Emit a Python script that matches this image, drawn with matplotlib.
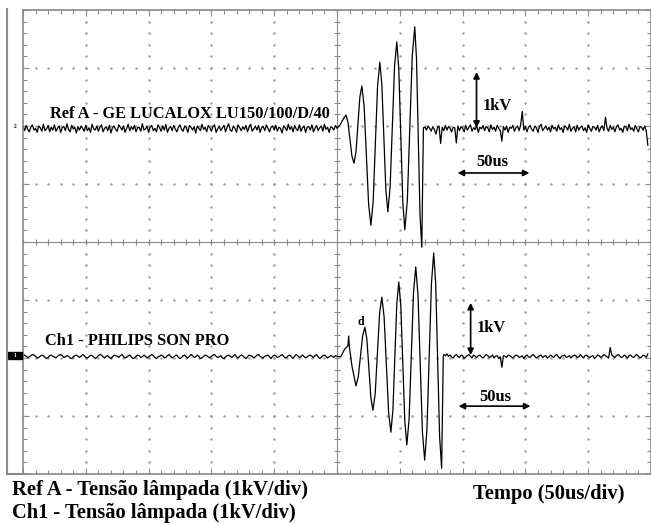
import numpy as np
import matplotlib
matplotlib.use("Agg")
import matplotlib.pyplot as plt
from matplotlib.lines import Line2D
from matplotlib.patches import Rectangle

plt.rcParams['font.family'] = ['Liberation Serif', 'DejaVu Serif']
plt.rcParams['font.weight'] = 'bold'

# --- dados (tempo em us, tensão em kV) ---
ref_base = 1.95
ch1_base = -1.98
dt = 1.25  # passo das amostras da linha de base (us)

# ruído da linha de base, em centésimos de kV
ref_pre_noise = [4, -3, 6, -1, -5, 3, 7, -2, 1, -6, 5, 2, -4, 8, -3, 0, 6, -5, 3, -2,
                 7, -4, 1, 5, -6, 2, 4, -3, 9, -1, -5, 6, 0, 3, -7, 4, -2, 5, 1, -4,
                 6, -3, 2, -6, 8, 0, -2, 5, -4, 3, 7, -5, 1, 4, -3, 6, -7, 2, 5, -1,
                 -4, 7, 3, -2, 5, -6, 1, 8, -3, 4, -1, 6, -5, 2, 3, -4, 9, -2, 0, 5,
                 -6, 3, 6, -3, 1, -5, 7, 2, -4, 5, -2, 8, -6, 1, 4, -3, 6, 0, -5, 3,
                 7, -1, -4, 5, 2, -6, 6, 3, -2, 4, -7, 5, 1, -3, 8, -1, 3, -5, 6, 2,
                 -4, 4, 7, -6, 0, 5, -3, 2, 6, -5, 3, 9, -2, -4, 5, 1, -6, 7, 2, -3,
                 4, -1, 6, -5, 3, 8, -4, 0, 5, -2, 6, -6, 2, 4, -3, 7, 1, -5, 3, 5,
                 -2, 6, -4, 3, 1, -7, 5, 2, -3, 8, -1, 4, -5, 6, 0, -3, 7, -4, 2, 5,
                 -6, 3, 4, -2, 7, -5, 1, 6, -3, 2, 5, -4, 8, -1, 3, -6, 4, 2, -2, 6]
ref_post_noise = [3, -2, 5, 1, -4, 4, -1, -9, 2, 5, -25, 3, -3, 6, -2, 4, 1, -5, 3, 2,
                  -24, 5, -3, 4, 1, -5, 6, -2, 3, 7, -4, 2, -1, 5, -6, 3, 0, 6, -3, 4,
                  2, -5, 7, -1, 3, -4, 6, 1, -3, -21, 4, -2, 5, -6, 3, 1, 6, -4, 2, 5,
                  -3, 7, 30, -2, 4, -5, 3, 6, -1, -4, 5, 2, -6, 4, 8, -3, 1, 5, -2, 3,
                  -5, 6, 0, 3, -4, 7, -1, 2, -6, 5, 3, -2, 8, -4, 1, 4, -5, 6, -2, 3,
                  5, -3, 2, -6, 7, 1, -4, 4, 3, -2, 6, -5, 2, 5, -3, 20, 1, -4, 6, -1,
                  3, -5, 4, 7, -2, 1, -6, 5, 3, -3, 8, -1, 2, -4, 6, 0, -5, 4, 3, -2,
                  5, -4, -28]
ch1_pre_noise = [2, 3, 1, -1, 0, 2, 4, 3, 1, -2, -1, 1, 3, 2, -1, -3, -1, 2, 3, 1,
                 0, -2, 1, 3, 4, 2, -1, 0, 2, 1, -2, -3, 0, 2, 3, 1, -1, 1, 4, 2,
                 -1, -2, 0, 3, 2, 0, -3, -1, 2, 4, 3, 0, -2, 1, 2, -1, -3, 0, 3, 2,
                 1, -1, 2, 4, 1, -2, -1, 2, 3, 0, -3, -2, 1, 3, 2, -1, 0, 3, 1, -2,
                 0, 2, 4, 2, -1, -3, 0, 1, 3, 2, -2, -1, 2, 4, 1, -2, 0, 2, 3, -1,
                 -3, -1, 2, 3, 0, -2, 1, 4, 2, -1, 0, 3, 1, -3, -2, 1, 3, 2, 0, -2,
                 1, 3, 4, 1, -1, 0, 2, -2, -3, 0, 2, 3, 1, -1, 2, 4, 0, -2, 1, 3,
                 2, -1, -3, 0, 3, 2, 1, -2, 0, 3, 4, 1, -1, -2, 1, 2, 3, 0, -3, 1,
                 3, 2, -1, 0, 2, 4, 1, -2, -1, 2, 3, 0, -3, 1, 4, 2, -1, 0, 3, 1,
                 -2, 0, 2, 3, 1, -1, 2, 4, 0, -3, -1, 2, 3, 1, -2, 0, 2, 1, -1, 2]
ch1_post_noise = [4, 2, 5, 1, 3, 0, -2, 2, 4, 1, -1, 3, 2, -3, 0, 2, 4, 1, -2, 3,
                  1, -1, 2, 3, 0, -2, 1, 4, 2, -1, 0, 3, -2, 1, 2, -3, 0, -18, 2, 1,
                  -1, 3, 2, 0, -2, 1, 3, 2, -1, 0, 2, -3, 1, 3, 0, -1, 2, 4, 1, -2,
                  0, 2, 3, -1, 1, 2, -2, 0, 3, 1, -1, 2, 4, 0, -3, 1, 2, 3, -1, 0,
                  2, -2, 1, 3, 2, -1, 0, 4, 1, -2, 2, 3, 0, -1, 1, 2, -3, 0, 3, 2,
                  -1, 1, 4, 2, 0, -2, 16, 3, 1, -1, 2, 4, 2, -1, 0, 3, 1, -2, 2, 3,
                  0, -1, 2, 4, 1, -2, 0, 3, 2, -1, 5]

# oscilação do pulso de ignição
ref_burst_t = [250.0, 252.5, 255.0, 257.1, 258.7, 261.9, 263.5, 265.1, 268.2, 269.8,
               271.6, 275.2, 277.0, 278.8, 282.3, 284.1, 285.7, 288.9, 290.5, 292.3,
               295.8, 297.6, 299.2, 302.4, 304.0, 306.0, 309.9, 311.9, 313.3, 316.1,
               317.5, 318.8]
ref_burst_v = [1.96, 2.02, 2.12, 2.19, 2.07, 1.48, 1.36, 1.55, 2.50, 2.69,
               2.34, 0.64, 0.29, 0.70, 2.69, 3.10, 2.72, 0.90, 0.52, 0.95,
               3.02, 3.45, 2.98, 0.68, 0.21, 0.72, 3.20, 3.71, 3.16, 0.46,
               -0.09, 1.97]
ch1_burst_t = [250.0, 253.0, 256.0, 258.7, 259.3, 259.8, 262.0, 265.1, 266.9, 270.4,
               272.2, 273.8, 277.0, 278.6, 280.4, 283.9, 285.7, 287.5, 291.1, 292.9,
               294.5, 297.6, 299.2, 300.8, 304.0, 305.6, 307.4, 310.9, 312.7, 314.5,
               318.0, 319.8, 321.6, 325.2, 327.0, 328.6, 331.7, 333.3, 334.6]
ch1_burst_v = [-1.97, -1.98, -1.85, -1.79, -1.62, -1.80, -2.15, -2.48, -2.33, -1.62,
               -1.47, -1.68, -2.69, -2.90, -2.62, -1.23, -0.95, -1.29, -2.94, -3.28,
               -2.90, -1.07, -0.69, -1.10, -3.09, -3.50, -3.05, -0.88, -0.43, -0.92,
               -3.27, -3.76, -3.24, -0.71, -0.19, -0.73, -3.36, -3.90, -1.98]

# --- montar traços ---
ref_t = np.concatenate([np.arange(len(ref_pre_noise)) * dt, ref_burst_t,
                        320 + np.arange(len(ref_post_noise)) * dt])
ref_v = np.concatenate([ref_base + np.array(ref_pre_noise) / 100, ref_burst_v,
                        ref_base + np.array(ref_post_noise) / 100])
ch1_t = np.concatenate([np.arange(len(ch1_pre_noise)) * dt, ch1_burst_t,
                        335 + np.arange(len(ch1_post_noise)) * dt])
ch1_v = np.concatenate([ch1_base + np.array(ch1_pre_noise) / 100, ch1_burst_v,
                        ch1_base + np.array(ch1_post_noise) / 100])

W, H = 651, 525
fig = plt.figure(figsize=(W / 100, H / 100), dpi=100)
ax = fig.add_axes([23 / W, 1 - 474 / H, 628 / W, 464 / H])
ax.set_xlim(0, 628 / 63 * 50)
ax.set_ylim(-4, 4)

grat = '#8a8a8a'
for s in ax.spines.values():
    s.set_color(grat)
    s.set_linewidth(1.2)
ax.set_xticks(np.arange(0, 501, 50))
ax.set_xticks(np.arange(0, 501, 10), minor=True)
ax.set_yticks(np.arange(-4, 4.01, 1))
ax.set_yticks(np.arange(-4, 4.01, 0.2), minor=True)
ax.tick_params(which='both', direction='in', top=True, right=True,
               labelbottom=False, labelleft=False, color=grat, width=0.8)
ax.tick_params(which='major', length=4)
ax.tick_params(which='minor', length=3)

# graticula pontilhada
xm = np.arange(0, 501, 10)
ym = np.arange(-4, 4.01, 0.2)
for y in [-3, -2, -1, 1, 2, 3]:
    ax.plot(xm, np.full_like(xm, y, dtype=float), ls='none', marker='.', ms=1.6, color='#a0a0a0')
for x in [50, 100, 150, 200, 300, 350, 400, 450]:
    ax.plot(np.full_like(ym, x), ym, ls='none', marker='.', ms=1.6, color='#a0a0a0')
ax.axhline(0, color=grat, lw=0.8)
ax.axvline(250, color=grat, lw=0.8)
ax.plot(xm, np.zeros_like(xm, dtype=float), ls='none', marker='|', ms=5, mew=0.8, color=grat)
ax.plot(np.full_like(ym, 250), ym, ls='none', marker='_', ms=5, mew=0.8, color=grat)

# traços
ax.plot(ref_t, ref_v, color='black', lw=0.9)
ax.plot(ch1_t, ch1_v, color='black', lw=0.9)

# textos internos
fs = 11.8
ax.text(21.4, 2.21, 'Ref A - GE LUCALOX LU150/100/D/40', fontsize=fs, va='center', ha='left')
ax.text(17.5, -1.71, 'Ch1 - PHILIPS SON PRO', fontsize=fs, va='center', ha='left')
ax.text(365.9, 2.34, '1kV', fontsize=fs, va='center', ha='left')
ax.text(361.1, 1.38, '50us', fontsize=fs, va='center', ha='left')
ax.text(361.1, -1.48, '1kV', fontsize=fs, va='center', ha='left')
ax.text(363.5, -2.67, '50us', fontsize=fs, va='center', ha='left')
ax.text(269, -1.38, 'd', fontsize=8.5, va='center', ha='center')

arr = dict(arrowstyle='<|-|>', color='black', lw=1.2, mutation_scale=9,
           shrinkA=0, shrinkB=0)
ax.annotate('', xy=(361.1, 2.93), xytext=(361.1, 1.97), arrowprops=arr)
ax.annotate('', xy=(346.0, 1.19), xytext=(403.2, 1.19), arrowprops=arr)
ax.annotate('', xy=(356.4, -1.05), xytext=(356.4, -1.95), arrowprops=arr)
ax.annotate('', xy=(346.8, -2.83), xytext=(404.0, -2.83), arrowprops=arr)

# moldura externa e marcadores de canal
fig.add_artist(Line2D([7 / W, 7 / W], [1 - 9 / H, 1 - 474 / H], color=grat, lw=1.5))
fig.add_artist(Line2D([7 / W, 23 / W], [1 - 474 / H, 1 - 474 / H], color=grat, lw=1.5))
fig.add_artist(Rectangle((8 / W, 1 - 359 / H), 14 / W, 7 / H, color='black'))
fig.text(15 / W, 1 - 355.5 / H, '1', color='white', fontsize=4, ha='center', va='center')
fig.text(15 / W, 1 - 127 / H, '2', color='black', fontsize=4, ha='center', va='center')

# legendas inferiores
fs2 = 14.8
fig.text(12 / W, 1 - 490 / H, 'Ref A - Tensão lâmpada (1kV/div)', fontsize=fs2, va='center', ha='left')
fig.text(12 / W, 1 - 513 / H, 'Ch1 - Tensão lâmpada (1kV/div)', fontsize=fs2, va='center', ha='left')
fig.text(473 / W, 1 - 494 / H, 'Tempo (50us/div)', fontsize=fs2, va='center', ha='left')

fig.savefig('out.png', dpi=100)
